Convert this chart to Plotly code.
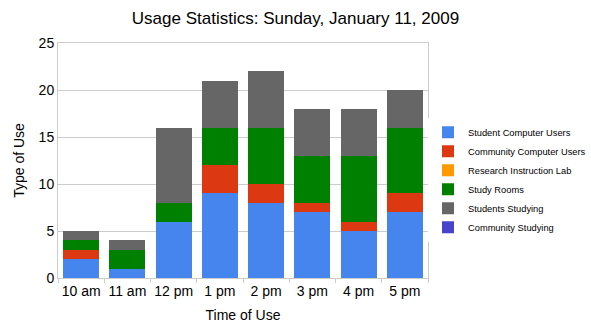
import plotly.graph_objects as go

categories = ["10 am", "11 am", "12 pm", "1 pm", "2 pm", "3 pm", "4 pm", "5 pm"]
student_computer = [2, 1, 6, 9, 8, 7, 5, 7]
community_computer = [1, 0, 0, 3, 2, 1, 1, 2]
research_lab = [0, 0, 0, 0, 0, 0, 0, 0]
study_rooms = [1, 2, 2, 4, 6, 5, 7, 7]
students_studying = [1, 1, 8, 5, 6, 5, 5, 4]
community_studying = [0, 0, 0, 0, 0, 0, 0, 0]

series = [
    ("Student Computer Users", student_computer, "#4684EE"),
    ("Community Computer Users", community_computer, "#DC3912"),
    ("Research Instruction Lab", research_lab, "#FF9900"),
    ("Study Rooms", study_rooms, "#008000"),
    ("Students Studying", students_studying, "#666666"),
    ("Community Studying", community_studying, "#4942CC"),
]

fig = go.Figure()
for name, vals, color in series:
    fig.add_trace(go.Bar(x=categories, y=vals, name=name, marker_color=color,
                         marker_line_width=0))

fig.update_layout(
    width=591, height=332,
    barmode="stack", bargap=0.22,
    paper_bgcolor="white", plot_bgcolor="white",
    font=dict(family="Liberation Sans, Arial, sans-serif", color="#000000"),
    margin=dict(l=58, r=163, t=43, b=54, autoexpand=False),
    title=dict(text="Usage Statistics: Sunday, January 11, 2009", x=0.5, xanchor="center",
               y=1 - 18 / 332, yanchor="middle", font=dict(size=17)),
    legend=dict(x=1.0, xanchor="left", y=0.682, yanchor="top", traceorder="normal",
                font=dict(size=9.3), tracegroupgap=0, itemwidth=30),
    xaxis=dict(title=dict(text="Time of Use", font=dict(size=14), standoff=12),
               tickfont=dict(size=14), tickangle=0, ticks="outside", tickson="boundaries",
               ticklen=4, tickcolor="#cccccc", showline=True, linecolor="#cccccc",
               mirror=True),
    yaxis=dict(title=dict(text="Type of Use", font=dict(size=14), standoff=10),
               range=[0, 25], dtick=5, tickfont=dict(size=14), showgrid=True,
               gridcolor="#cccccc", showline=True, linecolor="#cccccc", mirror=True,
               zeroline=False, ticks=""),
)

fig.write_html("out.html")
